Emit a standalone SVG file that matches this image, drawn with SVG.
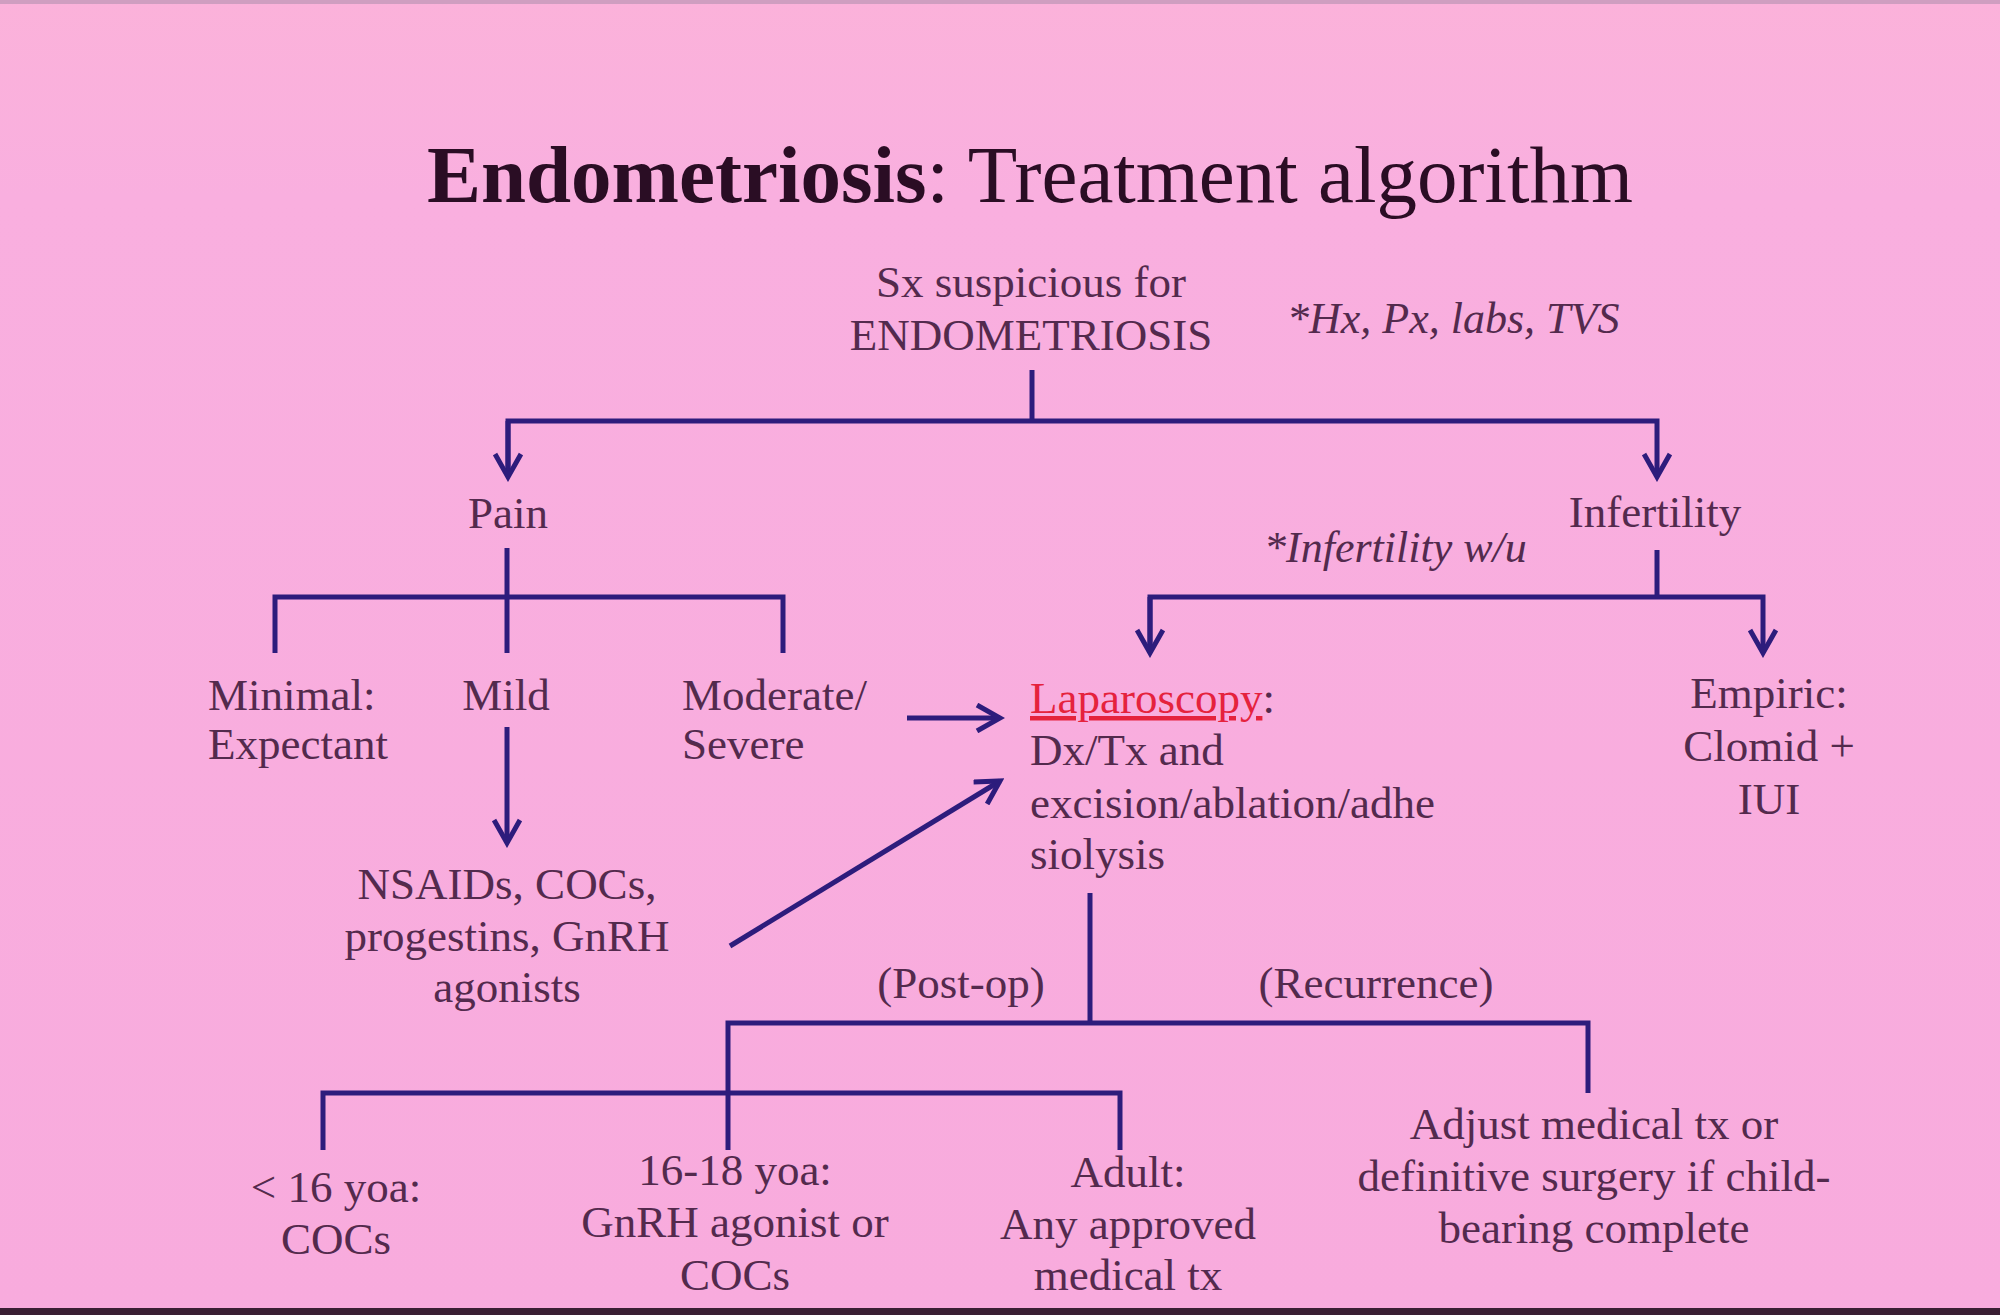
<svg xmlns="http://www.w3.org/2000/svg" width="2000" height="1315" viewBox="0 0 2000 1315">
<defs>
<linearGradient id="bg" x1="0" y1="0" x2="0" y2="1">
<stop offset="0" stop-color="#fbb2da"/>
<stop offset="0.15" stop-color="#f9afdf"/>
<stop offset="1" stop-color="#f8abdd"/>
</linearGradient>
<marker id="arr" viewBox="0 0 30 30" markerUnits="userSpaceOnUse" markerWidth="30" markerHeight="30" refX="25" refY="15" orient="auto">
<path d="M2,2 L25,15 L2,28" fill="none" stroke="#2d1c7c" stroke-width="5" stroke-linejoin="miter"/>
</marker>
</defs>
<style>
text{font-family:"Liberation Serif","Times New Roman",serif;fill:#532a4d;}
.t{font-size:45px;}
.i{font-size:44px;font-style:italic;}
.m{text-anchor:middle;}
.title{font-size:81px;fill:#2a0d24;text-anchor:middle;}
.red{fill:#e5223d;}
.c line,.c polyline{stroke:#2d1c7c;stroke-width:5;fill:none;}
</style>
<rect x="0" y="0" width="2000" height="1315" fill="url(#bg)"/>
<rect x="0" y="0" width="2000" height="4" fill="#cf9ec0"/>
<rect x="0" y="1308" width="2000" height="7" fill="#3a1f33"/>

<g id="title"><text class="title" x="1030" y="202"><tspan font-weight="bold">Endometriosis</tspan>: Treatment algorithm</text></g>

<g id="n-sx"><text class="t m" x="1031" y="297">Sx suspicious for</text><text class="t m" x="1031" y="350">ENDOMETRIOSIS</text></g>
<g id="n-hx"><text class="i" x="1287" y="333">*Hx, Px, labs, TVS</text></g>
<g id="n-pain"><text class="t m" x="508" y="528">Pain</text></g>
<g id="n-infert"><text class="t m" x="1655" y="527">Infertility</text></g>
<g id="n-infwu"><text class="i" x="1264" y="562">*Infertility w/u</text></g>
<g id="n-minimal"><text class="t" x="208" y="710">Minimal:</text><text class="t" x="208" y="759">Expectant</text></g>
<g id="n-mild"><text class="t m" x="506" y="710">Mild</text></g>
<g id="n-moderate"><text class="t" x="682" y="710">Moderate/</text><text class="t" x="682" y="759">Severe</text></g>
<g id="n-lap"><text class="t" x="1030" y="713"><tspan class="red" text-decoration="underline">Laparoscopy</tspan>:</text><text class="t" x="1030" y="765">Dx/Tx and</text><text class="t" x="1030" y="818">excision/ablation/adhe</text><text class="t" x="1030" y="869">siolysis</text></g>
<g id="n-empiric"><text class="t m" x="1769" y="708">Empiric:</text><text class="t m" x="1769" y="761">Clomid +</text><text class="t m" x="1769" y="814">IUI</text></g>
<g id="n-nsaids"><text class="t m" x="507" y="899">NSAIDs, COCs,</text><text class="t m" x="507" y="951">progestins, GnRH</text><text class="t m" x="507" y="1002">agonists</text></g>
<g id="n-postop"><text class="t m" x="961" y="998">(Post-op)</text></g>
<g id="n-recur"><text class="t m" x="1376" y="998">(Recurrence)</text></g>
<g id="n-lt16"><text class="t m" x="336" y="1202">&lt; 16 yoa:</text><text class="t m" x="336" y="1254">COCs</text></g>
<g id="n-1618"><text class="t m" x="735" y="1185">16-18 yoa:</text><text class="t m" x="735" y="1237">GnRH agonist or</text><text class="t m" x="735" y="1290">COCs</text></g>
<g id="n-adult"><text class="t m" x="1128" y="1187">Adult:</text><text class="t m" x="1128" y="1239">Any approved</text><text class="t m" x="1128" y="1290">medical tx</text></g>
<g id="n-adjust"><text class="t m" x="1594" y="1139">Adjust medical tx or</text><text class="t m" x="1594" y="1191">definitive surgery if child-</text><text class="t m" x="1594" y="1243">bearing complete</text></g>

<g id="connectors" class="c">
<line x1="1032" y1="370" x2="1032" y2="421"/>
<polyline points="508,477 508,421 1657,421 1657,477" marker-end="url(#arr)"/>
<line x1="508" y1="421" x2="508" y2="477" marker-end="url(#arr)"/>
<line x1="507" y1="548" x2="507" y2="653"/>
<polyline points="275,653 275,597 783,597 783,653"/>
<line x1="1657" y1="550" x2="1657" y2="597"/>
<polyline points="1150,653 1150,597 1763,597 1763,653" marker-end="url(#arr)"/>
<line x1="1150" y1="597" x2="1150" y2="653" marker-end="url(#arr)"/>
<line x1="907" y1="718" x2="1000" y2="718" marker-end="url(#arr)"/>
<line x1="507" y1="727" x2="507" y2="843" marker-end="url(#arr)"/>
<line x1="730" y1="946" x2="1000" y2="781" marker-end="url(#arr)"/>
<line x1="1090" y1="893" x2="1090" y2="1023"/>
<polyline points="728,1150 728,1023 1588,1023 1588,1093"/>
<polyline points="323,1150 323,1093 1120,1093 1120,1150"/>
</g>
</svg>
